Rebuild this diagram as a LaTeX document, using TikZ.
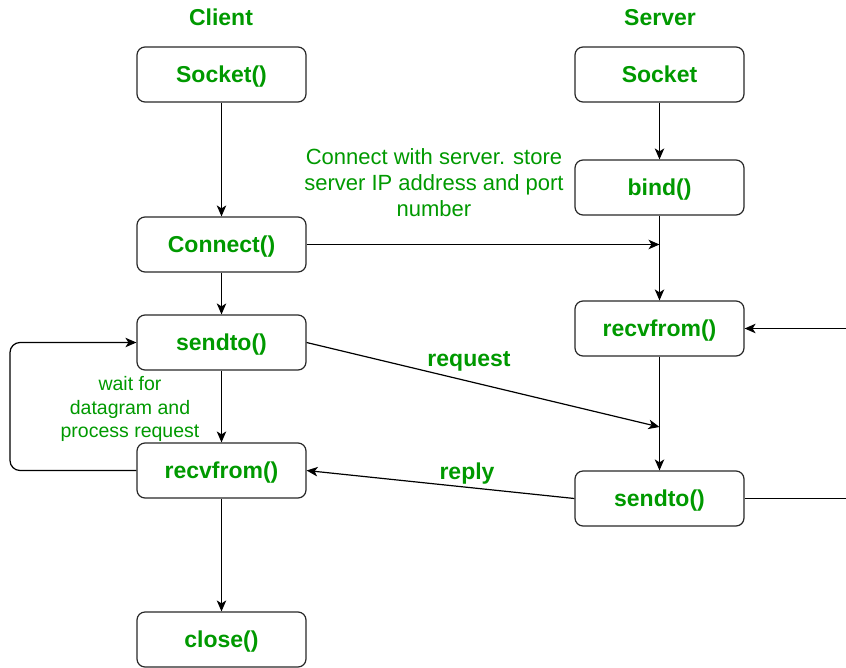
\documentclass[tikz,border=0pt]{standalone}
\usepackage{fontspec}
\setmainfont{Liberation Sans}
\usetikzlibrary{arrows.meta}
\definecolor{tgreen}{RGB}{0,153,0}
\definecolor{edge}{RGB}{40,40,40}
\tikzset{
  box/.style={draw=edge, line width=1.2pt, rounded corners=8pt, minimum width=169pt, minimum height=55pt, text=tgreen, font=\fontsize{23}{26}\selectfont\bfseries, inner sep=0pt, text height=16.5pt, text depth=0pt},
  ttl/.style={text=tgreen, font=\fontsize{23}{26}\selectfont\bfseries, inner sep=0pt, text height=16.5pt, text depth=0pt},
  note/.style={text=tgreen, font=\fontsize{22}{26}\selectfont, align=center, inner sep=0pt},
  smallnote/.style={text=tgreen, font=\fontsize{19.5}{23.5}\selectfont, align=center, inner sep=0pt},
  arr/.style={draw=black, line width=1.2pt, -{Stealth[length=11pt,width=9.5pt,inset=3pt]}},
  ln/.style={draw=black, line width=1.2pt},
}
\begin{document}
\begin{tikzpicture}[x=1pt,y=-1pt]
\useasboundingbox (0,0) rectangle (846,667);
% titles
\node[ttl] (tc) at (221,17) {Client};
\node[ttl] (ts) at (660,17) {Server};
% client boxes
\node[box] (csock) at (221.5,74.5) {Socket()};
\node[box] (conn)  at (221.5,244.5) {Connect()};
\node[box] (csend) at (221.5,342.5) {sendto()};
\node[box] (crecv) at (221.5,470.5) {recvfrom()};
\node[box] (close) at (221.5,639.5) {close()};
% server boxes
\node[box] (ssock) at (659.5,74.5) {Socket};
\node[box] (bind)  at (659.5,187.5) {bind()};
\node[box] (srecv) at (659.5,328.5) {recvfrom()};
\node[box] (ssend) at (659.5,498.5) {sendto()};
% notes
\node[note] (n1) at (434,183) {Connect with server. store\\server IP address and port\\number};
\node[smallnote] (n2) at (130,409) {wait for\\datagram and\\process request};
\node[ttl] (lreq) at (469,358) {request};
\node[ttl] (lrep) at (467,471) {reply};
% coordinates
\coordinate (j1) at (659.5,244.5);
\coordinate (j2) at (659.5,427);
\coordinate (rin) at (846,328.5);
\coordinate (rout) at (846,498.5);
\coordinate (lp1) at (10,470.5);
\coordinate (lp2) at (10,342.5);
% client flow
\draw[arr] (csock) -- (conn);
\draw[arr] (conn) -- (csend);
\draw[arr] (csend) -- (crecv);
\draw[arr] (crecv) -- (close);
% server flow
\draw[arr] (ssock) -- (bind);
\draw[arr] (bind) -- (srecv);
\draw[arr] (srecv) -- (ssend);
% cross
\draw[arr] (conn.east) -- (j1);
\draw[arr] (csend.east) -- (j2);
\draw[arr] (ssend.west) -- (crecv.east);
\draw[arr] (rin) -- (srecv.east);
\draw[ln] (ssend.east) -- (rout);
\draw[arr, rounded corners=10pt] (crecv.west) -- (lp1) -- (lp2) -- (csend.west);
\end{tikzpicture}
\end{document}
